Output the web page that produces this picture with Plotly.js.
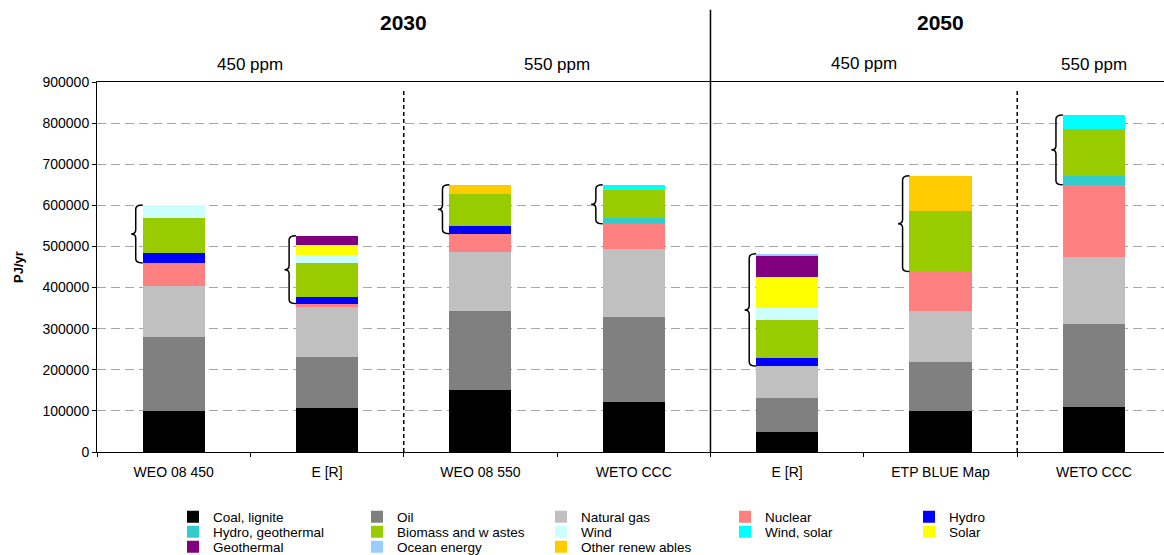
<!DOCTYPE html>
<html>
<head>
<meta charset="utf-8">
<script src="https://cdn.plot.ly/plotly-3.0.1.min.js"></script>
<style>
  html, body { margin: 0; padding: 0; background: #fff; }
  #chart { width: 1164px; height: 555px; }
</style>
</head>
<body>
<div id="chart"></div>
<script>
// Scenario labels (x axis), in drawing order
const scenarios = ['WEO 08 450', 'E [R]', 'WEO 08 550', 'WETO CCC', 'E [R]', 'ETP BLUE Map', 'WETO CCC'];

// Primary energy by source, PJ/yr
const coal        = [100000, 107000, 150000, 122000,  48000, 100000, 110000];
const oil         = [180000, 124000, 194000, 207000,  83000, 119000, 202000];
const naturalGas  = [124000, 122000, 143000, 165000,  78000, 124000, 163000];
const nuclear     = [ 56000,   8000,  44000,  61000,      0,  96000, 175000];
const hydro       = [ 24000,  16000,  19000,      0,  20000,      0,      0];
const hydroGeo    = [     0,      0,      0,  15000,      0,      0,  22000];
const biomass     = [ 85000,  83000,  78000,  68000,  92000, 148000, 114000];
const wind        = [ 32000,  18000,      0,      0,  30000,      0,      0];
const windSolar   = [     0,      0,      0,  12000,      0,      0,  34000];
const solar       = [     0,  26000,      0,      0,  75000,      0,      0];
const geothermal  = [     0,  22000,      0,      0,  51000,      0,      0];
const ocean       = [     0,      0,      0,      0,   5000,      0,      0];
const otherRenew  = [     0,      0,  22000,      0,      0,  85000,      0];

// Group headings
const yearLabels = ['2030', '2050'];
const ppmLabels  = ['450 ppm', '550 ppm', '450 ppm', '550 ppm'];

const FONT = 'Arial, "Liberation Sans", sans-serif';
const xIdx = scenarios.map((_, i) => i);

const series = [
  { name: 'Coal, lignite',      y: coal,       color: '#000000', legend: 'legend'  },
  { name: 'Oil',                y: oil,        color: '#808080', legend: 'legend'  },
  { name: 'Natural gas',        y: naturalGas, color: '#c0c0c0', legend: 'legend'  },
  { name: 'Nuclear',            y: nuclear,    color: '#ff8080', legend: 'legend'  },
  { name: 'Hydro',              y: hydro,      color: '#0000ff', legend: 'legend'  },
  { name: 'Hydro, geothermal',  y: hydroGeo,   color: '#33cccc', legend: 'legend2' },
  { name: 'Biomass and w astes', y: biomass,   color: '#99cc00', legend: 'legend2' },
  { name: 'Wind',               y: wind,       color: '#ccffff', legend: 'legend2' },
  { name: 'Wind, solar',        y: windSolar,  color: '#00ffff', legend: 'legend2' },
  { name: 'Solar',              y: solar,      color: '#ffff00', legend: 'legend2' },
  { name: 'Geothermal',         y: geothermal, color: '#800080', legend: 'legend3' },
  { name: 'Ocean energy',       y: ocean,      color: '#99ccff', legend: 'legend3' },
  { name: 'Other renew ables',  y: otherRenew, color: '#ffcc00', legend: 'legend3' }
];

const traces = series.map(s => ({
  type: 'bar',
  x: xIdx,
  y: s.y,
  name: s.name,
  legend: s.legend,
  marker: { color: s.color, line: { width: 0 } },
  hovertemplate: '%{y}<extra>' + s.name + '</extra>'
}));

// Curly brace spanning the renewable part of each stack
const barHalf = 0.2025;
const fossilNuclear = xIdx.map(i => coal[i] + oil[i] + naturalGas[i] + nuclear[i]);
const totals = xIdx.map(i => series.reduce((acc, s) => acc + s.y[i], 0));
const shapes = xIdx.map(i => {
  const xr = i - barHalf, xm = xr - 0.045, xt = xr - 0.075;
  const top = totals[i], bot = fossilNuclear[i], mid = (top + bot) / 2, r = 10000;
  const path = `M${xr},${top} Q${xm},${top} ${xm},${top - r} L${xm},${mid + r} ` +
               `Q${xm},${mid} ${xt},${mid} Q${xm},${mid} ${xm},${mid - r} ` +
               `L${xm},${bot + r} Q${xm},${bot} ${xr},${bot}`;
  return { type: 'path', path, xref: 'x', yref: 'y', line: { color: '#000', width: 1.5 } };
});

// Separators between year blocks and concentration groups
shapes.push({ type: 'line', xref: 'x', yref: 'paper', x0: 3.5, x1: 3.5, y0: 0, y1: 1.195,
              line: { color: '#000', width: 1.5 } });
[1.5, 5.5].forEach(x => shapes.push({ type: 'line', xref: 'x', yref: 'paper', x0: x, x1: x,
              y0: 0, y1: 0.981, line: { color: '#000', width: 1.5, dash: '4px,3px' } }));

const annotations = [
  { text: '<b>' + yearLabels[0] + '</b>', x: 1.5, y: 1.162, font: { size: 21 } },
  { text: '<b>' + yearLabels[1] + '</b>', x: 5.0, y: 1.162, font: { size: 21 } },
  { text: ppmLabels[0], x: 0.5, y: 1.046, font: { size: 17 } },
  { text: ppmLabels[1], x: 2.5, y: 1.046, font: { size: 17 } },
  { text: ppmLabels[2], x: 4.5, y: 1.049, font: { size: 17 } },
  { text: ppmLabels[3], x: 6.0, y: 1.046, font: { size: 17 } }
].map(a => Object.assign({ xref: 'x', yref: 'paper', showarrow: false, yanchor: 'middle',
                           xanchor: 'center' }, a, { font: Object.assign({ family: FONT, color: '#000' }, a.font) }));

const legendBase = {
  orientation: 'h', xref: 'container', yref: 'container', xanchor: 'left', yanchor: 'middle',
  x: 173 / 1164, entrywidth: 139, entrywidthmode: 'pixels',
  font: { family: FONT, size: 13.5, color: '#000' }, bgcolor: 'rgba(0,0,0,0)', traceorder: 'normal'
};

const layout = {
  width: 1164, height: 555,
  margin: { l: 97, r: 0, t: 82, b: 103, autoexpand: false },
  paper_bgcolor: '#fff', plot_bgcolor: '#fff',
  font: { family: FONT, color: '#000', size: 14 },
  barmode: 'stack', bargap: 0.595,
  xaxis: {
    range: [-0.5, 6.457], tickmode: 'array', tickvals: xIdx, ticktext: scenarios,
    ticks: '', ticklabelstandoff: 7, showgrid: false, zeroline: false,
    showline: true, linecolor: '#000', linewidth: 1, mirror: true,
    tickfont: { family: FONT, size: 14 },
    minor: { tickmode: 'linear', tick0: 0.5, dtick: 1, ticks: 'outside', ticklen: 4,
             tickcolor: '#000', showgrid: false }
  },
  yaxis: {
    range: [0, 900000], dtick: 100000, tickformat: 'd',
    ticks: 'outside', ticklen: 4, tickcolor: '#000',
    showline: true, linecolor: '#000', linewidth: 1,
    showgrid: true, gridcolor: '#a6a6a6', gridwidth: 1, griddash: '9px,5px',
    zeroline: false, tickfont: { family: FONT, size: 14 },
    title: { text: '<b>PJ/yr</b>', font: { family: FONT, size: 13 }, standoff: 15 }
  },
  legend:  Object.assign({}, legendBase, { y: 1 - 517 / 555 }),
  legend2: Object.assign({}, legendBase, { y: 1 - 532 / 555 }),
  legend3: Object.assign({}, legendBase, { y: 1 - 547 / 555 }),
  shapes, annotations,
  showlegend: true
};

Plotly.newPlot('chart', traces, layout, { displayModeBar: false, staticPlot: true });
</script>
</body>
</html>
